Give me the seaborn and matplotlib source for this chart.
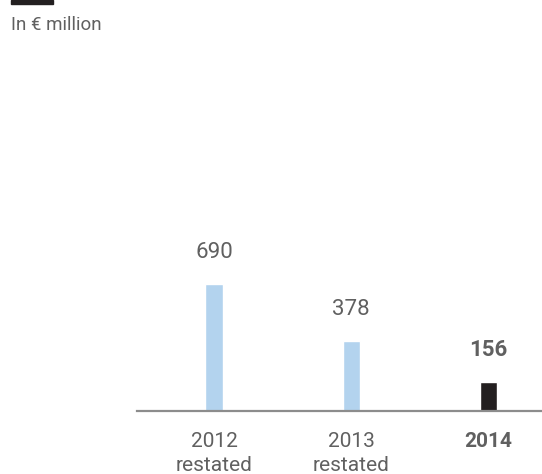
import matplotlib
matplotlib.use("Agg")
import matplotlib.pyplot as plt
import seaborn as sns
import pandas as pd
from matplotlib.patches import Rectangle

categories = ["2012\nrestated", "2013\nrestated", "2014"]
values = [690, 378, 156]
value_labels = ["690", "378", "156"]
highlight = [False, False, True]

sns.set_theme(style="white")
plt.rcParams['font.family'] = ['Roboto', 'DejaVu Sans']

W, H = 542, 474
fig = plt.figure(figsize=(W / 100, H / 100), dpi=100)

# axes: left 137px, right 542px, baseline 411px from top
base_px = 411
scale = 127 / 690.0  # px per unit
ax = fig.add_axes([137 / W, (H - base_px) / H, (542 - 137) / W, base_px / H])

df = pd.DataFrame({"cat": categories, "val": values,
                   "grp": ["cur" if h else "prev" for h in highlight]})
sns.barplot(data=df, x="cat", y="val", hue="grp",
            palette={"prev": "#b3d3ee", "cur": "#231f20"},
            dodge=False, width=0.124, legend=False, ax=ax, saturation=1)

x_unit = 137.25
ax.set_xlim(-(214 - 137) / x_unit, (542 - 214) / x_unit)
ax.set_ylim(0, base_px / scale)

for i, (v, lab, h) in enumerate(zip(values, value_labels, highlight)):
    ax.annotate(lab, xy=(i, v), xytext=(0, 21), textcoords="offset pixels",
                ha="center", va="bottom", fontsize=16,
                color="#606060", fontweight="bold" if h else "normal")

for s in ["top", "right", "left"]:
    ax.spines[s].set_visible(False)
ax.spines["bottom"].set_color("#8c8c8c")
ax.spines["bottom"].set_linewidth(1.6)
ax.set_yticks([])
ax.set_xlabel("")
ax.set_ylabel("")
ax.set_xticks(range(len(categories)))
ax.set_xticklabels(categories, fontsize=15, color="#606060", linespacing=1.32)
ax.tick_params(axis="x", length=0, pad=15)
for t, h in zip(ax.get_xticklabels(), highlight):
    t.set_fontweight("bold" if h else "normal")
    t.set_va("top")

fig.patches.append(Rectangle((11 / W, (H - 4) / H), 42 / W, 4 / H,
                             transform=fig.transFigure, color="#231f20"))
fig.text(11 / W, 1 - 25 / H, "In € million", ha="left", va="center",
         fontsize=13.5, color="#606060", fontweight="normal")

fig.savefig("out.png", dpi=100)
